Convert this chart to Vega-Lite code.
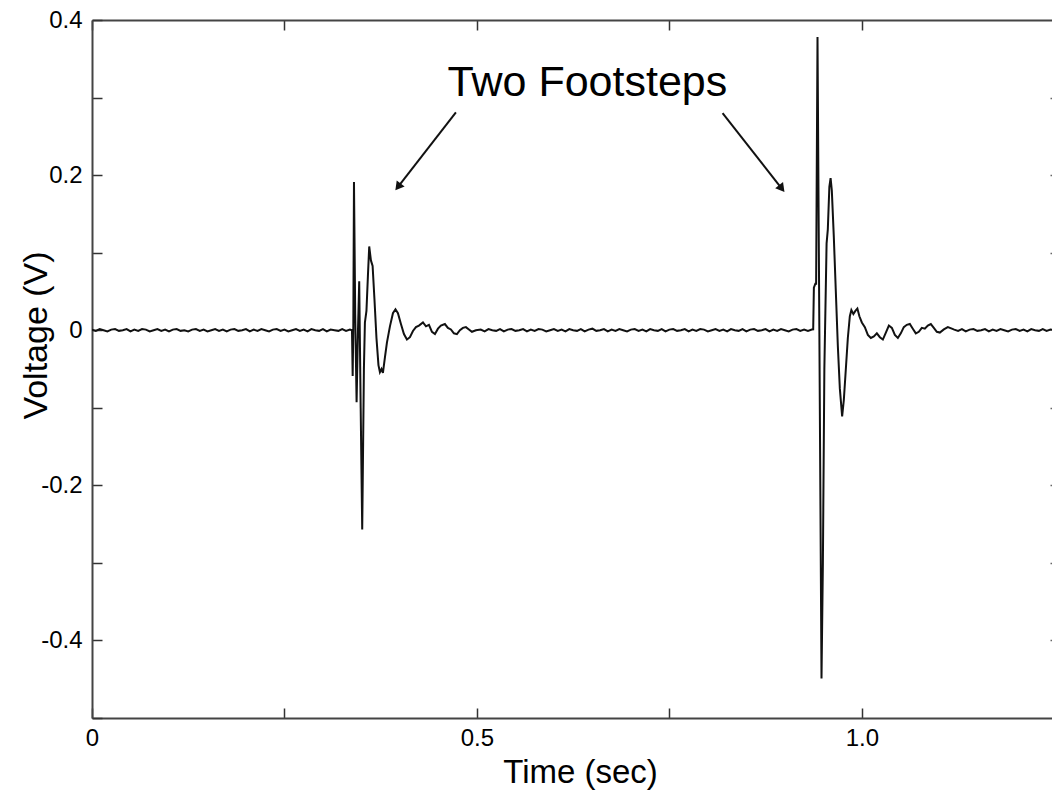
{
  "$schema": "https://vega.github.io/schema/vega-lite/v6.json",
  "width": 960,
  "height": 698,
  "autosize": {"type": "none"},
  "padding": {"left": 92, "top": 20, "right": 0, "bottom": 77},
  "background": "white",
  "config": {"view": {"stroke": null}, "font": "Liberation Sans", "axis": {"grid": false}},
  "datasets": {
    "wave": [
      {"t":0,"v":0.0008},{"t":0.005,"v":-0.0008},{"t":0.01,"v":0.0015},{"t":0.015,"v":0},{"t":0.02,"v":-0.0015},{"t":0.025,"v":0.0008},{"t":0.03,"v":0.0015},{"t":0.035,"v":-0.0008},{"t":0.04,"v":0},{"t":0.045,"v":0.0015},{"t":0.05,"v":-0.0015},{"t":0.055,"v":0.0008},{"t":0.06,"v":-0.0008},{"t":0.065,"v":0.0015},{"t":0.07,"v":0.0008},{"t":0.075,"v":-0.0015},{"t":0.08,"v":0},{"t":0.085,"v":0.0015},{"t":0.09,"v":-0.0008},{"t":0.095,"v":0.0008},{"t":0.1,"v":-0.0015},{"t":0.105,"v":0.0008},{"t":0.11,"v":0.0015},{"t":0.115,"v":-0.0008},{"t":0.12,"v":0},{"t":0.125,"v":-0.0015},{"t":0.13,"v":0.0008},{"t":0.135,"v":0.0015},{"t":0.14,"v":-0.0008},{"t":0.145,"v":0.0008},{"t":0.15,"v":-0.0015},{"t":0.155,"v":0},{"t":0.16,"v":0.0015},{"t":0.165,"v":-0.0008},{"t":0.17,"v":0.0008},{"t":0.175,"v":-0.0015},{"t":0.18,"v":0.0008},{"t":0.185,"v":0.0015},{"t":0.19,"v":-0.0008},{"t":0.195,"v":0},{"t":0.2,"v":0.0015},{"t":0.205,"v":-0.0015},{"t":0.21,"v":0.0008},{"t":0.215,"v":-0.0008},{"t":0.22,"v":0.0015},{"t":0.225,"v":0},{"t":0.23,"v":-0.0015},{"t":0.235,"v":0.0008},{"t":0.24,"v":0.0015},{"t":0.245,"v":-0.0008},{"t":0.25,"v":0.0008},{"t":0.255,"v":-0.0015},{"t":0.26,"v":0},{"t":0.265,"v":0.0015},{"t":0.27,"v":-0.0008},{"t":0.275,"v":0.0008},{"t":0.28,"v":-0.0015},{"t":0.285,"v":0.0015},{"t":0.29,"v":0},{"t":0.295,"v":-0.0008},{"t":0.3,"v":0.0015},{"t":0.305,"v":-0.0015},{"t":0.31,"v":0.0008},{"t":0.315,"v":0},{"t":0.32,"v":-0.0008},{"t":0.325,"v":0.0015},{"t":0.33,"v":-0.0008},{"t":0.335,"v":0.0008},
      {"t":0.3377,"v":0},{"t":0.3386,"v":-0.059},{"t":0.3394,"v":0},{"t":0.3403,"v":0.191},{"t":0.3419,"v":0.02},{"t":0.3437,"v":-0.093},{"t":0.3455,"v":0},{"t":0.3471,"v":0.063},{"t":0.349,"v":-0.1},{"t":0.351,"v":-0.257},{"t":0.3532,"v":-0.05},{"t":0.3545,"v":0.01},{"t":0.3565,"v":0.025},{"t":0.3584,"v":0.07},{"t":0.3601,"v":0.108},{"t":0.3623,"v":0.09},{"t":0.3645,"v":0.083},{"t":0.3669,"v":0.04},{"t":0.3695,"v":-0.01},{"t":0.3721,"v":-0.045},{"t":0.374,"v":-0.054},{"t":0.376,"v":-0.05},{"t":0.3779,"v":-0.055},{"t":0.3805,"v":-0.035},{"t":0.3831,"v":-0.016},{"t":0.387,"v":0.005},{"t":0.3909,"v":0.022},{"t":0.3942,"v":0.027},{"t":0.3974,"v":0.022},{"t":0.4013,"v":0.008},{"t":0.4052,"v":-0.005},{"t":0.4091,"v":-0.012},{"t":0.413,"v":-0.009},{"t":0.4169,"v":-0.001},{"t":0.4208,"v":0.004},{"t":0.4247,"v":0.006},{"t":0.4299,"v":0.01},{"t":0.4338,"v":0.005},{"t":0.4377,"v":0.007},{"t":0.4416,"v":-0.002},{"t":0.4455,"v":-0.005},{"t":0.4494,"v":0.002},{"t":0.4532,"v":0.006},{"t":0.4584,"v":0.008},{"t":0.4623,"v":0.003},{"t":0.4662,"v":0.001},{"t":0.4701,"v":-0.004},{"t":0.474,"v":-0.005},{"t":0.4779,"v":0},{"t":0.4818,"v":0.003},{"t":0.4857,"v":0.004},{"t":0.4896,"v":0.001},{"t":0.4935,"v":-0.002},{"t":0.4987,"v":0},
      {"t":0.505,"v":0.0008},{"t":0.51,"v":-0.0015},{"t":0.515,"v":0.0015},{"t":0.52,"v":0},{"t":0.525,"v":-0.0008},{"t":0.53,"v":0.0015},{"t":0.535,"v":-0.0015},{"t":0.54,"v":0.0008},{"t":0.545,"v":0.0015},{"t":0.55,"v":-0.0008},{"t":0.555,"v":0},{"t":0.56,"v":0.0015},{"t":0.565,"v":-0.0015},{"t":0.57,"v":0.0008},{"t":0.575,"v":-0.0008},{"t":0.58,"v":0.0015},{"t":0.585,"v":0.0008},{"t":0.59,"v":-0.0015},{"t":0.595,"v":0},{"t":0.6,"v":0.0015},{"t":0.605,"v":-0.0008},{"t":0.61,"v":0.0008},{"t":0.615,"v":-0.0015},{"t":0.62,"v":0.0015},{"t":0.625,"v":0},{"t":0.63,"v":-0.0008},{"t":0.635,"v":0.0015},{"t":0.64,"v":-0.0015},{"t":0.645,"v":0.0008},{"t":0.65,"v":0.002},{"t":0.655,"v":-0.0008},{"t":0.66,"v":0},{"t":0.665,"v":0.0015},{"t":0.67,"v":-0.0015},{"t":0.675,"v":0.0008},{"t":0.68,"v":-0.0008},{"t":0.685,"v":0.0015},{"t":0.69,"v":0},{"t":0.695,"v":-0.0015},{"t":0.7,"v":0.0008},{"t":0.705,"v":0.0015},{"t":0.71,"v":-0.0008},{"t":0.715,"v":0.0008},{"t":0.72,"v":-0.0015},{"t":0.725,"v":0.0015},{"t":0.73,"v":0},{"t":0.735,"v":-0.0008},{"t":0.74,"v":0.0015},{"t":0.745,"v":-0.0015},{"t":0.75,"v":0.0008},{"t":0.755,"v":0.0015},{"t":0.76,"v":-0.0008},{"t":0.765,"v":0},{"t":0.77,"v":0.0015},{"t":0.775,"v":-0.0015},{"t":0.78,"v":0.0008},{"t":0.785,"v":-0.0008},{"t":0.79,"v":0.0015},{"t":0.795,"v":0.0008},{"t":0.8,"v":-0.0015},{"t":0.805,"v":0},{"t":0.81,"v":0.0015},{"t":0.815,"v":-0.0008},{"t":0.82,"v":0.0008},{"t":0.825,"v":-0.0015},{"t":0.83,"v":0.0015},{"t":0.835,"v":0},{"t":0.84,"v":-0.0008},{"t":0.845,"v":0.0015},{"t":0.85,"v":-0.0015},{"t":0.855,"v":0.0008},{"t":0.86,"v":0.0015},{"t":0.865,"v":-0.0008},{"t":0.87,"v":0},{"t":0.875,"v":0.0015},{"t":0.88,"v":-0.0015},{"t":0.885,"v":0.0008},{"t":0.89,"v":-0.0008},{"t":0.895,"v":0.0015},{"t":0.9,"v":0},{"t":0.905,"v":-0.0015},{"t":0.91,"v":0.0008},{"t":0.915,"v":0.0015},{"t":0.92,"v":-0.0008},{"t":0.925,"v":0.0008},{"t":0.93,"v":-0.0008},{"t":0.935,"v":0.0008},
      {"t":0.9368,"v":0.001},{"t":0.9377,"v":0.055},{"t":0.9396,"v":0.06},{"t":0.9406,"v":0.06},{"t":0.9424,"v":0.378},{"t":0.9448,"v":0},{"t":0.9476,"v":-0.449},{"t":0.9494,"v":-0.3},{"t":0.9513,"v":-0.05},{"t":0.9542,"v":0.112},{"t":0.9558,"v":0.13},{"t":0.9578,"v":0.185},{"t":0.9594,"v":0.196},{"t":0.961,"v":0.18},{"t":0.9636,"v":0.12},{"t":0.9662,"v":0.05},{"t":0.9688,"v":-0.02},{"t":0.9714,"v":-0.075},{"t":0.9744,"v":-0.111},{"t":0.9766,"v":-0.09},{"t":0.9792,"v":-0.05},{"t":0.9818,"v":-0.01},{"t":0.9844,"v":0.018},{"t":0.9864,"v":0.026},{"t":0.989,"v":0.021},{"t":0.9916,"v":0.025},{"t":0.9942,"v":0.028},{"t":0.9968,"v":0.018},{"t":1,"v":0.01},{"t":1.0039,"v":0.004},{"t":1.0078,"v":-0.006},{"t":1.0117,"v":-0.01},{"t":1.0156,"v":-0.008},{"t":1.0195,"v":-0.004},{"t":1.0234,"v":-0.009},{"t":1.0273,"v":-0.012},{"t":1.0312,"v":-0.003},{"t":1.0351,"v":0.006},{"t":1.039,"v":0.003},{"t":1.0429,"v":-0.006},{"t":1.0468,"v":-0.01},{"t":1.0506,"v":-0.004},{"t":1.0545,"v":0.004},{"t":1.0584,"v":0.007},{"t":1.0623,"v":0.008},{"t":1.0662,"v":0.002},{"t":1.0701,"v":-0.004},{"t":1.074,"v":-0.002},{"t":1.0779,"v":0.003},{"t":1.0818,"v":0.002},{"t":1.0857,"v":0.006},{"t":1.0896,"v":0.008},{"t":1.0935,"v":0.003},{"t":1.0974,"v":-0.002},{"t":1.1013,"v":-0.003},{"t":1.1065,"v":0.001},{"t":1.1117,"v":0.004},{"t":1.1169,"v":0.002},
      {"t":1.12,"v":0.0008},{"t":1.125,"v":-0.0008},{"t":1.13,"v":0.0015},{"t":1.135,"v":-0.0015},{"t":1.14,"v":0.0008},{"t":1.145,"v":0.0015},{"t":1.15,"v":-0.0008},{"t":1.155,"v":0},{"t":1.16,"v":0.0015},{"t":1.165,"v":-0.0015},{"t":1.17,"v":0.0008},{"t":1.175,"v":-0.0008},{"t":1.18,"v":0.0015},{"t":1.185,"v":0},{"t":1.19,"v":-0.0015},{"t":1.195,"v":0.0008},{"t":1.2,"v":0.0015},{"t":1.205,"v":-0.0008},{"t":1.21,"v":0.0008},{"t":1.215,"v":-0.0015},{"t":1.22,"v":0.0015},{"t":1.225,"v":0},{"t":1.23,"v":-0.0008},{"t":1.235,"v":0.0015},{"t":1.24,"v":-0.0008},{"t":1.245,"v":0.0008},{"t":1.25,"v":0}
    ],
    "annotation": [{"x": 0.6435, "y": 0.302, "label": "Two Footsteps"}],
    "arrows": [
      {"x": 0.4727, "y": 0.2809, "x2": 0.3975, "y2": 0.1848, "a": 217.9},
      {"x": 0.8191, "y": 0.28, "x2": 0.896, "y2": 0.1827, "a": 141.8}
    ]
  },
  "resolve": {"axis": {"x": "independent", "y": "independent"}},
  "layer": [
    {
      "data": {"name": "wave"},
      "mark": {"type": "line", "color": "#111", "strokeWidth": 2, "clip": true},
      "encoding": {
        "x": {
          "field": "t", "type": "quantitative",
          "scale": {"domain": [0, 1.247], "nice": false, "zero": false},
          "axis": {
            "orient": "bottom", "values": [0, 0.25, 0.5, 0.75, 1],
            "labelExpr": "datum.value==0?'0':datum.value==0.5?'0.5':datum.value==1?'1.0':''",
            "labelFlush": false, "labelOverlap": false,
            "tickSize": -10, "tickColor": "#333", "tickWidth": 1.5,
            "domainColor": "#444", "domainWidth": 2,
            "labelPadding": 18, "labelFontSize": 24, "labelColor": "#000", "labelBaseline": "top",
            "title": "Time (sec)", "titleFontSize": 33, "titleFontWeight": "normal", "titleColor": "#000",
            "titleX": 488, "titleY": 64, "titleBaseline": "alphabetic", "titleAlign": "center"
          }
        },
        "y": {
          "field": "v", "type": "quantitative",
          "scale": {"domain": [-0.5, 0.4], "nice": false, "zero": false},
          "axis": {
            "orient": "left", "values": [-0.5, -0.4, -0.3, -0.2, -0.1, 0, 0.1, 0.2, 0.3, 0.4],
            "labelExpr": "datum.value==0.4?'0.4':datum.value==0.2?'0.2':datum.value==0?'0':datum.value==-0.2?'-0.2':datum.value==-0.4?'-0.4':''",
            "labelFlush": false, "labelOverlap": false,
            "tickSize": -10, "tickColor": "#333", "tickWidth": 1.5,
            "domainColor": "#444", "domainWidth": 2,
            "labelPadding": 20, "labelFontSize": 24, "labelColor": "#000", "labelBaseline": "middle",
            "title": "Voltage (V)", "titleFontSize": 34, "titleFontWeight": "normal", "titleColor": "#000",
            "titleX": -56, "titleY": 315, "titleBaseline": "middle", "titleAlign": "center", "titleAngle": -90
          }
        }
      }
    },
    {
      "data": {"name": "annotation"},
      "mark": {"type": "text", "fontSize": 43, "align": "center", "baseline": "alphabetic", "color": "#000", "font": "Liberation Sans"},
      "encoding": {
        "x": {
          "field": "x", "type": "quantitative",
          "scale": {"domain": [0, 1.247], "nice": false, "zero": false},
          "axis": {"orient": "top", "values": [0, 0.25, 0.5, 0.75, 1], "labels": false, "title": null,
                   "tickSize": -10, "tickColor": "#333", "tickWidth": 1.5, "domainColor": "#444", "domainWidth": 2}
        },
        "y": {
          "field": "y", "type": "quantitative",
          "scale": {"domain": [-0.5, 0.4], "nice": false, "zero": false},
          "axis": {"orient": "right", "values": [-0.4, -0.3, -0.2, -0.1, 0.1, 0.2, 0.3], "labels": false, "title": null,
                   "domain": false, "tickSize": -2, "tickColor": "#666", "tickWidth": 1.5}
        },
        "text": {"field": "label"}
      }
    },
    {
      "data": {"name": "arrows"},
      "mark": {"type": "rule", "color": "#111", "strokeWidth": 2},
      "encoding": {
        "x": {"field": "x", "type": "quantitative", "axis": null, "scale": {"domain": [0, 1.247], "nice": false, "zero": false}},
        "y": {"field": "y", "type": "quantitative", "axis": null, "scale": {"domain": [-0.5, 0.4], "nice": false, "zero": false}},
        "x2": {"field": "x2"},
        "y2": {"field": "y2"}
      }
    },
    {
      "data": {"name": "arrows"},
      "mark": {"type": "point", "shape": "triangle-up", "filled": true, "color": "#111", "size": 100, "opacity": 1},
      "encoding": {
        "x": {"field": "x2", "type": "quantitative", "axis": null, "scale": {"domain": [0, 1.247], "nice": false, "zero": false}},
        "y": {"field": "y2", "type": "quantitative", "axis": null, "scale": {"domain": [-0.5, 0.4], "nice": false, "zero": false}},
        "angle": {"field": "a", "type": "quantitative", "scale": null}
      }
    }
  ]
}
